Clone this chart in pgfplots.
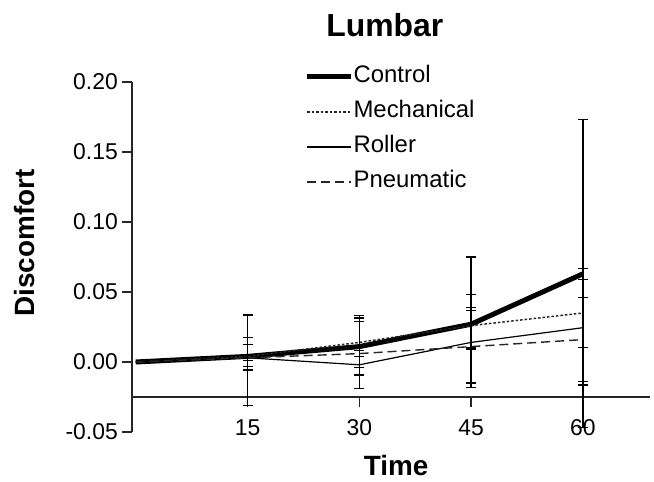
\documentclass[border=0pt]{standalone}
\usepackage{fontspec}
\setmainfont{Liberation Sans}
\usepackage{pgfplots}
\usepackage{pgfplotstable}
\pgfplotsset{compat=1.18}

% time, mean, error up, error down
\pgfplotstableread{
x y ep em
0 0 0 0
15 0.004 0.0296 0.035
30 0.011 0.022 0.030
45 0.027 0.048 0.045
60 0.063 0.110 0.110
}\control
\pgfplotstableread{
x y ep em
0 0 0 0
15 0.004 0.0134 0.0097
30 0.014 0.0174 0.0233
45 0.026 0.022 0.041
60 0.035 0.032 0.049
}\mechanical
\pgfplotstableread{
x y ep em
0 0 0 0
15 0.003 0.0096 0.006
30 -0.002 0.031 0.002
45 0.014 0.025 0.004
60 0.0245 0.0345 0.041
}\roller
\pgfplotstableread{
x y ep em
0 0 0 0
15 0.003 0.002 0.002
30 0.006 0.002 0.002
45 0.011 0.026 0.002
60 0.016 0.030 0.0055
}\pneumatic

\pgfplotsset{
  ebars/.style={draw=none, forget plot, mark=none,
    skip coords between index={0}{1},
    error bars/.cd, y dir=both, y explicit,
    error bar style={line width=1.3bp, black},
    error mark options={rotate=90, mark size=5bp, line width=1.3bp, black}},
  common/.style={scale only axis, width=518bp, xmin=-0.5, xmax=69,
    /pgf/number format/assume math mode=true},
  myticks/.style={tick align=outside, major tick length=10bp,
    every tick/.style={draw=black!85, line width=1.3bp},
    minor tick num=0},
}

\begin{document}
\begin{tikzpicture}
\path[use as bounding box] (-132bp,-50bp) rectangle (522bp,432bp);

% x axis, crossing at -0.025
\begin{axis}[common, at={(0bp,35bp)}, anchor=south west, height=315bp,
    ymin=-0.025, ymax=0.2, axis x line=bottom, axis y line=none,
    axis line style={-, line width=1.3bp, black!85},
    every outer x axis line/.append style={-},
    x axis line style={-},
    myticks,
    xtick={15,30,45,60},
    xticklabel style={font=\fontsize{23}{27}\selectfont, inner sep=0bp,
      anchor=north, text height=17bp, text depth=0bp, yshift=-11bp},
    xlabel={Time},
    xlabel style={font=\fontsize{28}{32}\selectfont\bfseries,
      at={(axis description cs:0.51,-0.216)}, anchor=center},
]
\addplot[draw=none, forget plot] coordinates {(0,0)};
\end{axis}

\begin{axis}[common, at={(0bp,0bp)}, anchor=south west, height=350bp,
    ymin=-0.05, ymax=0.2, axis y line=left, axis x line=none,
    axis line style={-, line width=1.3bp, black!85},
    y axis line style={-},
    myticks,
    ytick={-0.05,0,0.05,0.1,0.15,0.2},
    yticklabels={-0.05,0.00,0.05,0.10,0.15,0.20},
    yticklabel style={font=\fontsize{23}{27}\selectfont, inner sep=0bp,
      anchor=east, xshift=-4bp},
    ylabel={Discomfort},
    ylabel style={font=\fontsize{28}{32}\selectfont\bfseries,
      at={(axis description cs:-0.207,0.54)}, anchor=center, rotate=0},
    title={Lumbar},
    title style={font=\fontsize{32}{36}\selectfont\bfseries,
      at={(axis description cs:0.488,1.145)}, anchor=center},
    legend cell align=left,
    legend style={draw=none, fill=none, at={(axis description cs:0.327,1.052)},
      anchor=north west, font=\fontsize{24}{28}\selectfont,
      nodes={inner sep=0pt, text height=17bp, text depth=5bp},
      row sep=13bp, /tikz/every even column/.append style={column sep=6bp}},
    legend image code/.code={\draw[#1] (0bp,0bp) -- (44bp,0bp);},
    clip=false,
]
\addplot[black, line width=5bp] table[x=x, y=y] {\control};
\addlegendentry{Control}
\addplot[black!85, line width=1.5bp, dash pattern=on 2.5bp off 2bp] table[x=x, y=y] {\mechanical};
\addlegendentry{Mechanical}
\addplot[black, line width=1.2bp] table[x=x, y=y] {\roller};
\addlegendentry{Roller}
\addplot[black!85, line width=1.4bp, dash pattern=on 9bp off 5bp] table[x=x, y=y] {\pneumatic};
\addlegendentry{Pneumatic}

\addplot[ebars] table[x=x, y=y, y error plus=ep, y error minus=em] {\control};
\addplot[ebars] table[x=x, y=y, y error plus=ep, y error minus=em] {\mechanical};
\addplot[ebars] table[x=x, y=y, y error plus=ep, y error minus=em] {\roller};
\addplot[ebars] table[x=x, y=y, y error plus=ep, y error minus=em] {\pneumatic};
\end{axis}
\end{tikzpicture}
\end{document}
